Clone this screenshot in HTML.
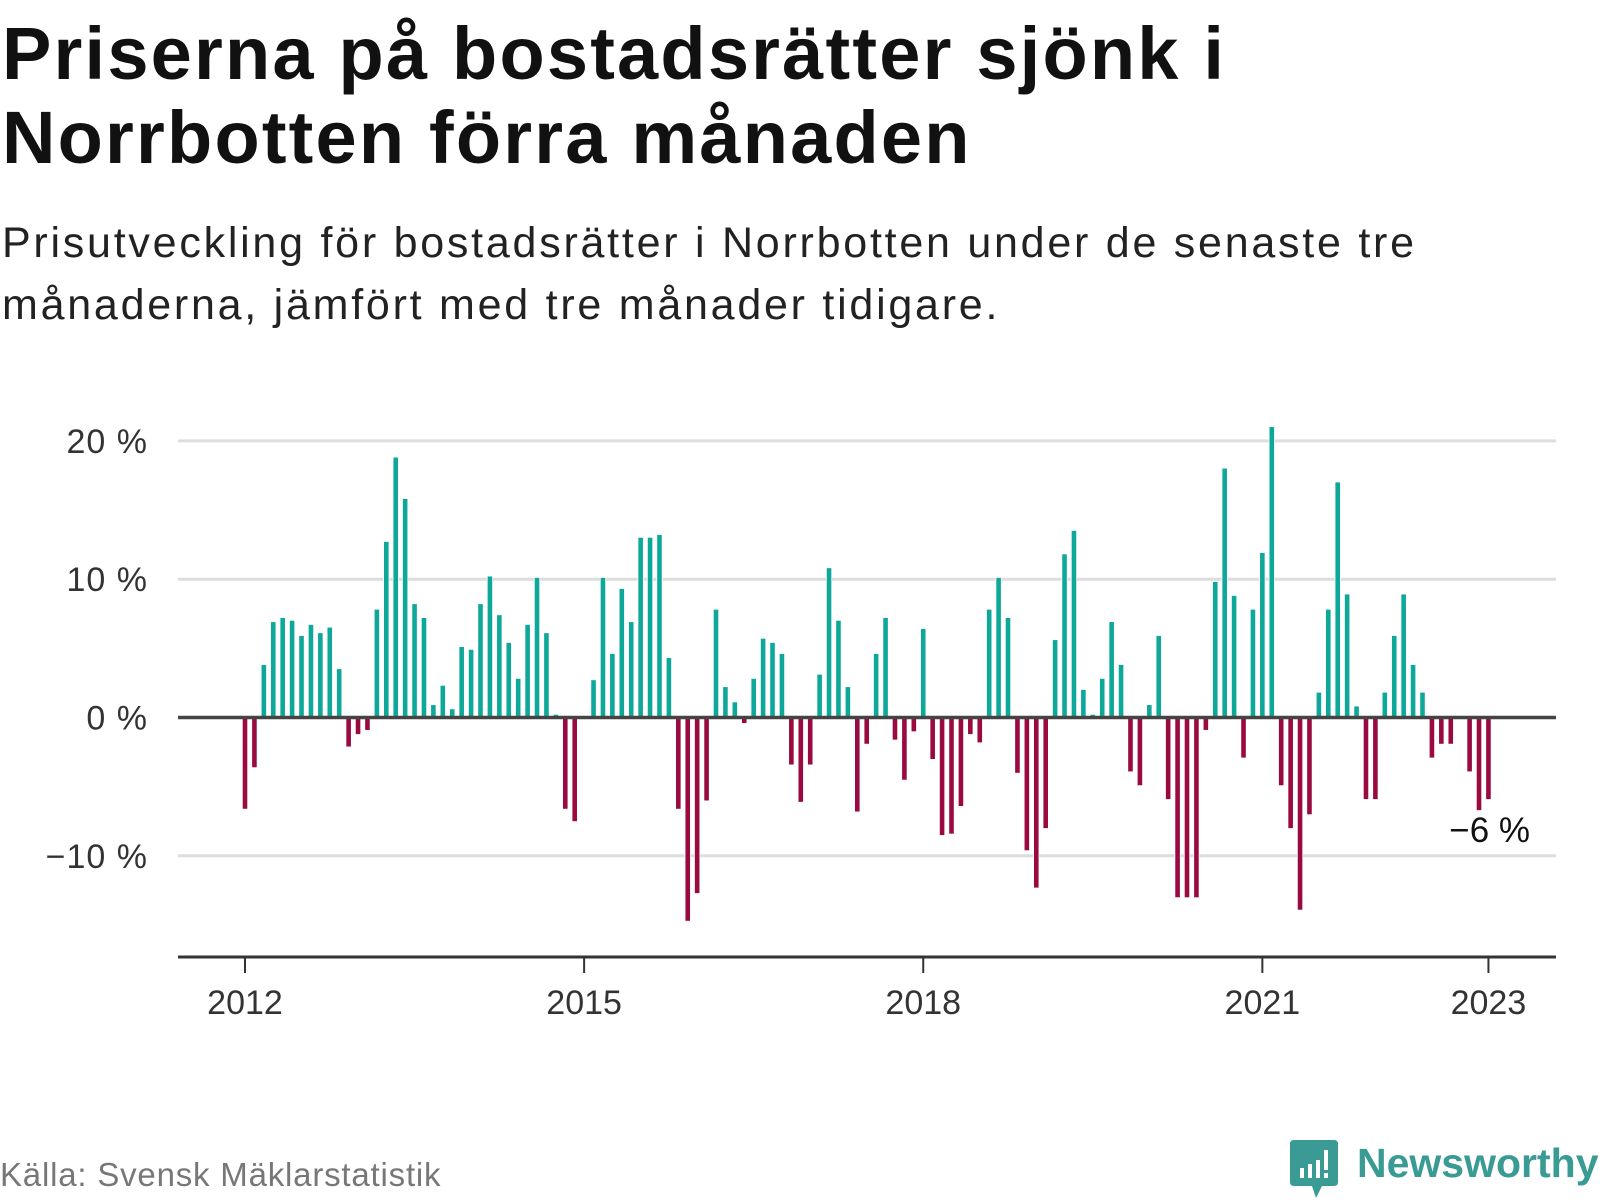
<!DOCTYPE html>
<html><head><meta charset="utf-8"><style>
body{margin:0;background:#fff;width:1600px;height:1200px;overflow:hidden;font-family:"Liberation Sans",sans-serif;}
#title{position:absolute;left:2px;top:12px;font-size:74px;font-weight:bold;line-height:84px;color:#111;margin:0;letter-spacing:2.2px;}
#sub{position:absolute;left:2px;top:212px;font-size:43px;line-height:62px;color:#222;margin:0;letter-spacing:2.75px;}
#src{position:absolute;left:0;top:1156px;font-size:33px;color:#777;letter-spacing:0.8px;}
#logo{position:absolute;left:1290px;top:1140px;}
#logotext{position:absolute;left:1357px;top:1140px;font-size:41px;font-weight:bold;color:#3a9a94;}
</style></head><body>
<h1 id="title">Priserna på bostadsrätter sjönk i<br>Norrbotten förra månaden</h1>
<p id="sub">Prisutveckling för bostadsrätter i Norrbotten under de senaste tre<br>månaderna, jämfört med tre månader tidigare.</p>
<svg id="chart" width="1600" height="1200" style="position:absolute;left:0;top:0"></svg>
<div id="src">Källa: Svensk Mäklarstatistik</div>
<svg id="logo" width="50" height="60" viewBox="0 0 50 60">
<path d="M4 0H44Q48 0 48 4V42Q48 46 44 46H32L26 58L22 46H4Q0 46 0 42V4Q0 0 4 0Z" fill="#3a9a94"/>
<rect x="10" y="28" width="4" height="10" fill="#fff"/><rect x="18" y="24" width="4" height="14" fill="#fff"/><rect x="26" y="20" width="4" height="18" fill="#fff"/><rect x="34" y="10" width="4" height="20" fill="#fff"/><rect x="34" y="33" width="4" height="5" fill="#fff"/>
</svg>
<div id="logotext">Newsworthy</div>
<script>
const values=[-6.6,-3.6,3.8,6.9,7.2,7.0,5.9,6.7,6.1,6.5,3.5,-2.1,-1.2,-0.9,7.8,12.7,18.8,15.8,8.2,7.2,0.9,2.3,0.6,5.1,4.9,8.2,10.2,7.4,5.4,2.8,6.7,10.1,6.1,0.2,-6.6,-7.5,
0,2.7,10.1,4.6,9.3,6.9,13.0,13.0,13.2,4.3,-6.6,-14.7,-12.7,-6.0,7.8,2.2,1.1,-0.4,2.8,5.7,5.4,4.6,-3.4,-6.1,-3.4,3.1,10.8,7.0,2.2,-6.8,-1.9,4.6,7.2,-1.6,-4.5,-1.0,
6.4,-3.0,-8.5,-8.4,-6.4,-1.2,-1.8,7.8,10.1,7.2,-4.0,-9.6,-12.3,-8.0,5.6,11.8,13.5,2.0,0.2,2.8,6.9,3.8,-3.9,-4.9,0.9,5.9,-5.9,-13.0,-13.0,-13.0,-0.9,9.8,18.0,8.8,-2.9,
7.8,11.9,21.0,-4.9,-8.0,-13.9,-7.0,1.8,7.8,17.0,8.9,0.8,-5.9,-5.9,1.8,5.9,8.9,3.8,1.8,-2.9,-1.9,-1.9,0,-3.9,-6.7,-5.9];
const yTicks=[-10,0,10,20];
const yTickLabels=["−10 %","0 %","10 %","20 %"];
const xTickYears=[2012,2015,2018,2021,2023];
const startYear=2012;
const lastLabel="−6 %";

const NS="http://www.w3.org/2000/svg";
const svg=document.getElementById('chart');
const x0=245, step=9.42, y0=717.5, pxPer=13.83;
const xs=i=>x0+i*step;
const ys=v=>y0-v*pxPer;
function mk(t,a){const e=document.createElementNS(NS,t);for(const k in a)e.setAttribute(k,a[k]);svg.appendChild(e);return e;}
yTicks.forEach((t,k)=>{
  if(t!==0){const g=mk('line',{x1:178,x2:1556,y1:ys(t),y2:ys(t),stroke:'#ddd','stroke-width':3});
  
  }
  const tx=mk('text',{x:148,y:ys(t)+12,'text-anchor':'end','font-size':34,fill:'#333','letter-spacing':1,'font-family':'Liberation Sans, sans-serif'});
  tx.textContent=yTickLabels[k];
  
  
});
values.forEach((v,i)=>{
  if(v===0)return;
  const top=Math.min(ys(v),y0), h=Math.abs(ys(v)-y0);
  const r=mk('rect',{x:xs(i)-2.3,y:top,width:4.6,height:h,fill:v>0?'#0ea89a':'#9a0a40',stroke:'#fff','stroke-width':1.5,'paint-order':'stroke'});
  
  
});
const zl=mk('line',{x1:178,x2:1556,y1:y0,y2:y0,stroke:'#444','stroke-width':3.5});


const ax=mk('line',{x1:178,x2:1556,y1:957,y2:957,stroke:'#333','stroke-width':3});


xTickYears.forEach(yr=>{
  const x=xs((yr-startYear)*12);
  const tk=mk('line',{x1:x,x2:x,y1:957,y2:973,stroke:'#333','stroke-width':2});
  
  
  const tx=mk('text',{x:x,y:1014,'text-anchor':'middle','font-size':34,fill:'#333','font-family':'Liberation Sans, sans-serif'});
  tx.textContent=yr;
  
  
});
const ll=mk('text',{x:1530,y:842,'text-anchor':'end','font-size':35,fill:'#111','font-family':'Liberation Sans, sans-serif'});
ll.textContent=lastLabel;


</script>
</body></html>
